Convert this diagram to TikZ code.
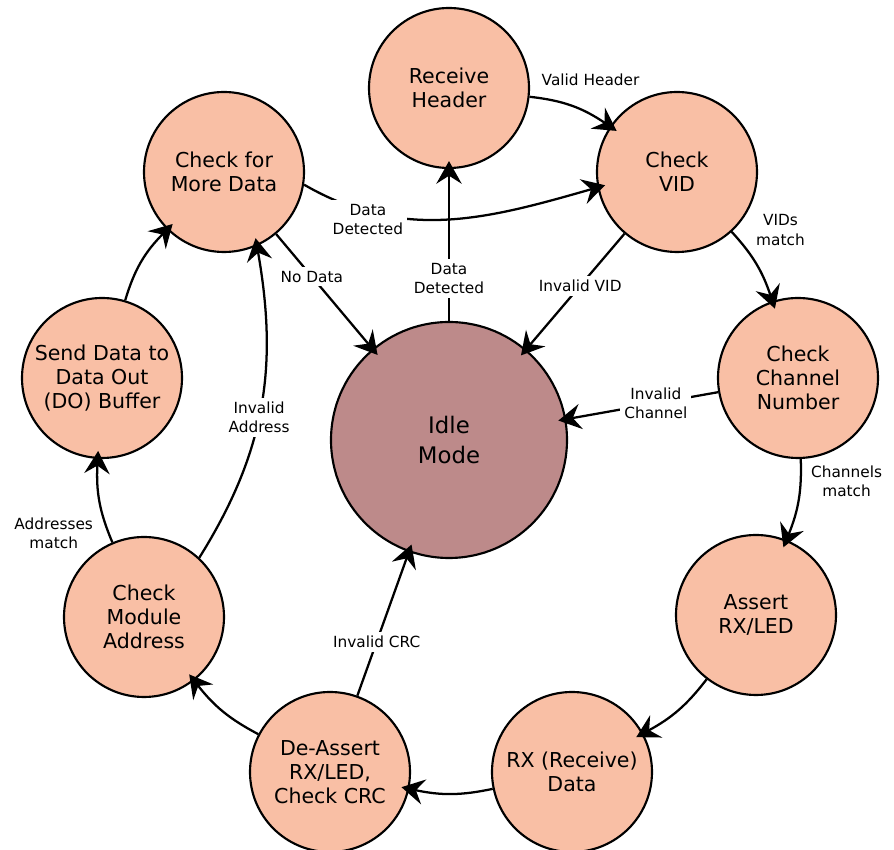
\documentclass[tikz,border=0pt]{standalone}
\usepackage{fontspec}
\setmainfont{DejaVu Sans}
\usetikzlibrary{positioning, arrows.meta}

\definecolor{stateFill}{HTML}{F9BFA5}
\definecolor{idleFill}{HTML}{BD8A8A}

\begin{document}
\begin{tikzpicture}[x=0.75pt, y=0.75pt,
		stateNode/.style={circle, draw, line width=1.6pt, fill=stateFill,
			minimum size=120pt, inner sep=0pt, align=center,
			font=\fontsize{15.4}{18.2}\selectfont},
		idleNode/.style={stateNode, fill=idleFill, minimum size=177pt,
			font=\fontsize{17.1}{22}\selectfont},
		transition/.style={line width=1.7pt,
			-{Stealth[length=17pt, width=19pt, inset=6pt]}, shorten >=-6pt},
		edgeLabel/.style={font=\fontsize{11.5}{14.3}\selectfont, align=center, inner sep=1pt},
		onLine/.style={edgeLabel, fill=white, inner sep=3pt}]

		\useasboundingbox (0,0) rectangle (894,850);

		% STATES
		\node[idleNode] (idle) at (449,410) {Idle\\Mode};
		\node[stateNode] (header) at (449,762) {Receive\\Header};
		\node[stateNode] (vid) at (677,678) {Check\\VID};
		\node[stateNode] (channel) at (798,472) {Check\\Channel\\Number};
		\node[stateNode] (assert) at (756,235) {Assert\\RX/LED};
		\node[stateNode] (receive) at (572,78) {RX (Receive)\\Data};
		\node[stateNode] (deassert) at (330,78) {De-Assert\\RX/LED,\\Check CRC};
		\node[stateNode] (module) at (144,233) {Check\\Module\\Address};
		\node[stateNode] (send) at (102,472) {Send Data to\\Data Out\\(DO) Buffer};
		\node[stateNode] (more) at (224,678) {Check for\\More Data};

		% OUTER RING
		\draw[transition] (header) to[bend left=14]
			node[edgeLabel, pos=0.5, above=13pt, xshift=14pt] {Valid Header} (vid);
		\draw[transition] (vid) to[bend left=12]
			node[edgeLabel, pos=0.2, above right=-2pt and 8pt] {VIDs\\match} (channel);
		\draw[transition] (channel) to[bend left=12]
			node[edgeLabel, pos=0.25, right=6pt] {Channels\\match} (assert);
		\draw[transition] (assert) to[bend left=12] (receive);
		\draw[transition] (receive) to[bend left=12] (deassert);
		\draw[transition] (deassert) to[bend left=12] (module);
		\draw[transition] (module) to[bend left=13]
			node[edgeLabel, pos=0.1, left=10pt] {Addresses\\match} (send);
		\draw[transition] (send) to[bend left=14] (more);

		% CROSS LINKS
		\draw[transition] (more.-9) to[out=-30, in=196]
			node[onLine, pos=0.22, yshift=-6pt] {Data\\Detected} (vid.191);
		\draw[transition] (module.47) to[out=58, in=-80]
			node[onLine, pos=0.47] {Invalid\\Address} (more.-66);

		% BACK TO IDLE
		\draw[transition] (idle) -- node[onLine, pos=0.28] {Data\\Detected} (header);
		\draw[transition] (more) -- node[onLine, pos=0.37] {No Data} (idle);
		\draw[transition] (vid) -- node[onLine, pos=0.45] {Invalid VID} (idle);
		\draw[transition] (channel) -- node[onLine, pos=0.41] {Invalid\\Channel} (idle);
		\draw[transition] (deassert) -- node[onLine, pos=0.375] {Invalid CRC} (idle);

\end{tikzpicture}
\end{document}
